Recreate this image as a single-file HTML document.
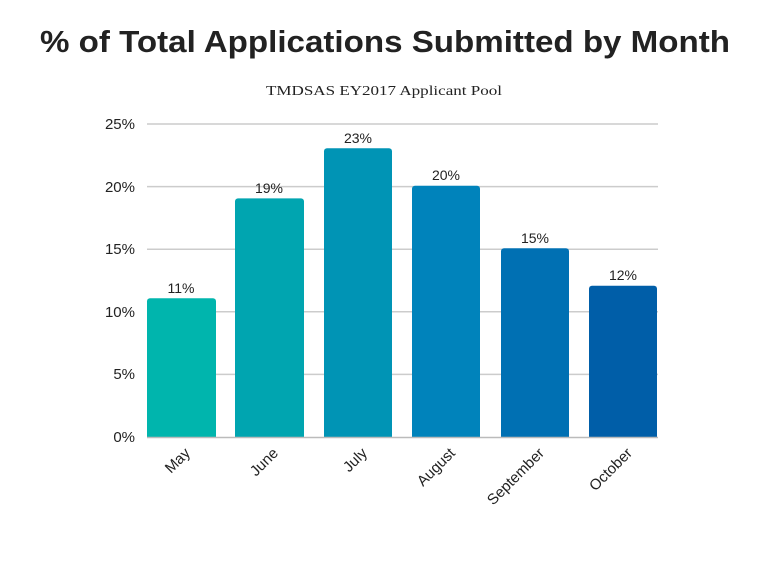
<!DOCTYPE html>
<html><head><style>
body{margin:0;background:#fff;}
svg{display:block;}
</style></head><body>
<svg width="768" height="576" xmlns="http://www.w3.org/2000/svg">
<rect width="768" height="576" fill="#fff"/>
<text x="385" y="52" text-anchor="middle" font-family="Liberation Sans, sans-serif" font-weight="bold" font-size="31" fill="#222" textLength="690" lengthAdjust="spacingAndGlyphs">% of Total Applications Submitted by Month</text>
<text x="384" y="95" text-anchor="middle" font-family="Liberation Serif, serif" font-size="14" fill="#222" textLength="236" lengthAdjust="spacingAndGlyphs">TMDSAS EY2017 Applicant Pool</text>
<g stroke="#cccccc" stroke-width="1.5">
<line x1="147" x2="658" y1="124" y2="124"/>
<line x1="147" x2="658" y1="186.6" y2="186.6"/>
<line x1="147" x2="658" y1="249.2" y2="249.2"/>
<line x1="147" x2="658" y1="311.8" y2="311.8"/>
<line x1="147" x2="658" y1="374.4" y2="374.4"/>
</g>
<g font-family="Liberation Sans, sans-serif" font-size="15" fill="#222" text-anchor="end">
<text x="135" y="129">25%</text>
<text x="135" y="192">20%</text>
<text x="135" y="254">15%</text>
<text x="135" y="317">10%</text>
<text x="135" y="379">5%</text>
<text x="135" y="442">0%</text>
</g>
<g>
<path d="M147,437V301.3a3,3 0 0 1 3,-3H213a3,3 0 0 1 3,3V437Z" fill="#00b5ad"/>
<path d="M235,437V201.4a3,3 0 0 1 3,-3H301a3,3 0 0 1 3,3V437Z" fill="#00a5b0"/>
<path d="M324,437V151.3a3,3 0 0 1 3,-3H389a3,3 0 0 1 3,3V437Z" fill="#0094b5"/>
<path d="M412,437V188.8a3,3 0 0 1 3,-3H477a3,3 0 0 1 3,3V437Z" fill="#0083bb"/>
<path d="M501,437V251.2a3,3 0 0 1 3,-3H566a3,3 0 0 1 3,3V437Z" fill="#0070b3"/>
<path d="M589,437V288.7a3,3 0 0 1 3,-3H654a3,3 0 0 1 3,3V437Z" fill="#005ea8"/>
</g>
<line x1="147" x2="658" y1="437.5" y2="437.5" stroke="#bbbbbb" stroke-width="1.5"/>
<g font-family="Liberation Sans, sans-serif" font-size="14" fill="#222" text-anchor="middle">
<text x="181" y="293">11%</text>
<text x="269" y="193">19%</text>
<text x="358" y="143">23%</text>
<text x="446" y="180">20%</text>
<text x="535" y="243">15%</text>
<text x="623" y="280">12%</text>
</g>
<g font-family="Liberation Sans, sans-serif" font-size="15" fill="#222" text-anchor="end">
<text transform="translate(191,454) rotate(-45)">May</text>
<text transform="translate(279,454) rotate(-45)">June</text>
<text transform="translate(368,454) rotate(-45)">July</text>
<text transform="translate(456,454) rotate(-45)">August</text>
<text transform="translate(545,454) rotate(-45)">September</text>
<text transform="translate(633,454) rotate(-45)">October</text>
</g>
</svg>
</body></html>
